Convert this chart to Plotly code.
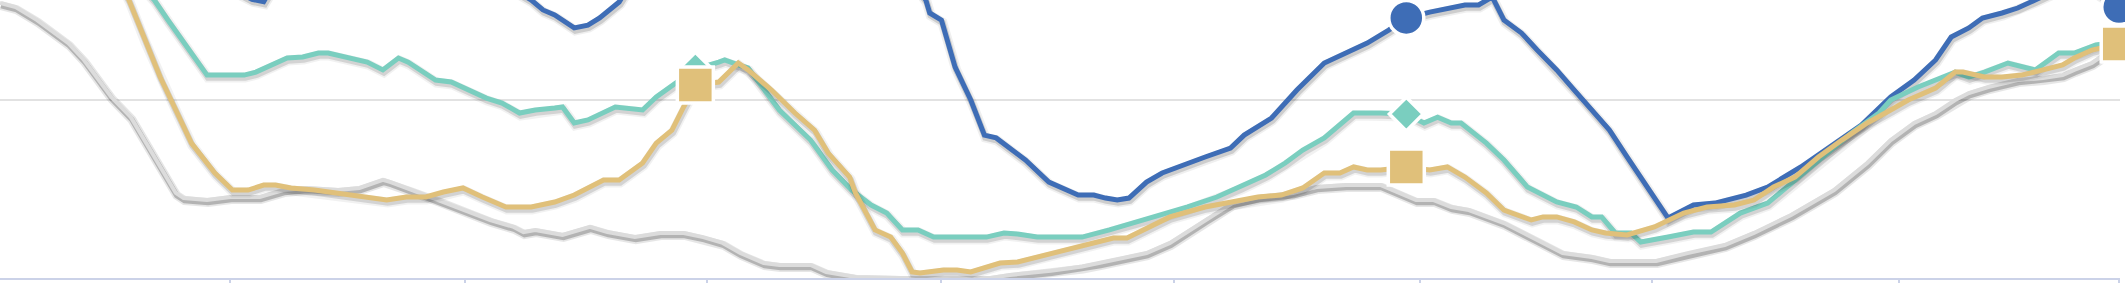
import plotly.graph_objects as go

# ---------------- data (day index, index value) ----------------
tick_days = [118, 238, 362, 482, 601, 727, 846, 972, 1085]
marker_days = [356, 720, 1085]
grid_values = [100]

blue_day = [0, 61, 123, 129, 135, 142, 164, 205, 241, 259, 272, 278, 284, 294, 301, 307, 317, 324,
            356, 410, 451, 468, 474, 476, 482, 489, 497, 504, 510, 525, 537, 552, 560, 566, 572, 578,
            587, 595, 608, 617, 630, 637, 651, 664, 678, 689, 700, 711, 720, 732, 743, 750, 757, 764,
            770, 779, 787, 797, 806, 815, 824, 833, 840, 847, 854, 867, 878, 894, 905, 922, 939, 953,
            968, 980, 991, 999, 1008, 1015, 1025, 1033, 1042, 1055, 1070, 1085]
blue_val = [200, 185, 160, 156.6, 155.3, 168, 185, 195, 180, 164.6, 156.2, 150.6, 147.8, 140.5, 142.1,
            146.1, 155.1, 167.4, 200, 210, 190, 165, 156.2, 148.9, 144.9, 118.5, 100.0, 80.3, 78.7,
            66.3, 53.9, 46.6, 46.6, 44.9, 43.8, 44.9, 53.9, 59.0, 64.6, 68.0, 73.0, 80.3, 89.9, 105.6,
            120.8, 126.4, 132.0, 139.3, 146.1, 149.4, 151.7, 153.4, 153.4, 157.9, 144.9, 137.6, 128.1,
            116.9, 105.6, 94.4, 83.1, 68.0, 56.7, 45.5, 33.7, 41.0, 42.1, 46.6, 51.1, 62.4, 75.8, 86.0,
            101.7, 111.2, 122.5, 135.4, 140.5, 146.1, 148.9, 151.7, 156.2, 162.9, 162.9, 152.2]

teal_day = [51, 72, 79, 86, 92, 104, 106, 125, 131, 147, 155, 163, 168, 188, 196, 204, 209, 223, 231,
            249, 257, 266, 274, 284, 288, 294, 301, 315, 329, 336, 346, 356, 368, 371, 378, 383, 399,
            415, 426, 436, 446, 454, 462, 470, 478, 505, 514, 521, 531, 554, 568, 589, 595, 608, 623,
            635, 648, 658, 667, 678, 693, 707, 720, 729, 736, 743, 748, 761, 770, 782, 797, 807, 815,
            820, 827, 835, 840, 854, 867, 876, 891, 905, 915, 931, 948, 962, 968, 982, 994, 1001, 1008,
            1016, 1028, 1042, 1054, 1062, 1073, 1085]
teal_val = [189.9, 164.6, 156.2, 144.9, 135.4, 116.9, 114.0, 114.0, 115.7, 123.6, 124.2, 126.4, 126.4,
            121.3, 116.9, 123.6, 121.3, 111.2, 110.1, 101.1, 98.3, 92.7, 94.4, 95.5, 96.1, 87.1, 88.8,
            96.1, 94.4, 101.7, 109.6, 117.4, 121.3, 122.5, 119.7, 118.0, 94.4, 77.5, 60.7, 49.4, 41.0,
            36.5, 27.0, 27.0, 23.0, 23.0, 25.3, 24.7, 23.0, 23.0, 27.0, 33.7, 35.4, 39.9, 45.5, 51.1,
            57.9, 64.6, 71.9, 78.7, 92.7, 92.7, 92.1, 87.1, 90.4, 87.1, 87.1, 75.8, 66.3, 51.1, 42.7,
            39.9, 34.3, 34.3, 25.3, 25.3, 20.2, 23.0, 25.8, 25.8, 36.5, 42.1, 51.1, 66.3, 81.5, 92.7,
            100.0, 107.3, 112.9, 115.7, 112.9, 115.7, 120.8, 116.9, 126.4, 126.4, 130.9, 132.6]

gold_day = [46, 59, 66, 74, 82, 90, 98, 110, 119, 127, 135, 141, 149, 161, 173, 186, 198, 208, 218,
            227, 237, 247, 259, 272, 284, 294, 309, 317, 329, 336, 344, 350, 356, 368, 378, 383, 395,
            407, 417, 424, 435, 438, 448, 456, 462, 467, 471, 483, 490, 497, 512, 521, 531, 541, 551,
            562, 570, 577, 589, 599, 617, 631, 644, 656, 667, 678, 686, 693, 700, 707, 720, 732, 741,
            750, 761, 770, 784, 790, 797, 806, 815, 822, 833, 847, 862, 874, 888, 898, 908, 919, 931,
            943, 956, 968, 977, 991, 1001, 1005, 1016, 1025, 1035, 1046, 1056, 1062, 1071, 1085]
gold_val = [201.2, 170.3, 156.2, 133.7, 112.9, 94.4, 75.8, 59.0, 49.4, 49.4, 52.2, 52.2, 50.6, 49.4,
            47.8, 45.5, 43.8, 45.5, 45.5, 48.3, 50.6, 45.5, 39.9, 39.9, 42.7, 46.6, 55.1, 55.1, 64.6,
            75.8, 83.1, 96.1, 108.4, 110.1, 120.8, 116.9, 105.6, 92.7, 83.1, 70.2, 56.7, 47.8, 27.0,
            23.0, 14.0, 3.4, 2.8, 4.5, 4.5, 3.4, 8.4, 9.0, 11.8, 14.6, 17.4, 20.2, 22.5, 22.5, 29.2,
            34.3, 39.9, 42.7, 45.5, 46.6, 50.6, 59.0, 59.0, 62.4, 60.7, 60.7, 62.4, 60.7, 62.4, 56.7,
            47.8, 38.2, 32.6, 34.3, 34.3, 31.5, 27.0, 25.3, 24.2, 28.7, 36.5, 39.9, 41.0, 43.8, 51.1,
            56.7, 68.0, 77.5, 87.1, 94.4, 100.0, 106.7, 115.7, 115.7, 112.9, 112.9, 114.0, 116.9,
            119.7, 123.6, 128.1, 131.5]

gray_day = [0, 8, 19, 35, 43, 57, 67, 74, 82, 90, 94, 106, 118, 133, 145, 157, 173, 184, 196, 200,
            211, 225, 235, 251, 263, 268, 274, 288, 302, 311, 325, 338, 350, 360, 370, 379, 391, 399,
            415, 423, 438, 461, 507, 517, 538, 554, 563, 587, 599, 617, 631, 644, 662, 674, 689, 707,
            716, 725, 734, 743, 752, 770, 787, 800, 815, 824, 848, 864, 883, 898, 917, 939, 956, 968,
            980, 991, 1001, 1008, 1018, 1033, 1046, 1056, 1062, 1071, 1083]
gray_val = [154.5, 152.2, 144.9, 132.0, 122.5, 101.7, 90.4, 77.5, 62.4, 47.8, 44.9, 43.8, 45.5, 45.5,
            49.4, 50.6, 49.4, 50.6, 55.1, 53.9, 49.4, 43.8, 39.3, 32.6, 28.7, 25.8, 27.0, 24.2, 28.7,
            25.8, 23.0, 25.3, 25.3, 23.0, 19.7, 14.0, 8.4, 7.3, 7.3, 3.4, 0.6, 0.0, 0.0, 1.7, 4.0,
            6.5, 8.4, 14.0, 19.7, 32.6, 42.1, 45.5, 47.8, 51.1, 52.2, 52.2, 48.3, 43.8, 43.8, 39.9,
            38.2, 30.9, 21.3, 14.0, 11.8, 9.6, 9.6, 14.0, 18.5, 25.3, 35.4, 49.4, 64.6, 77.5, 87.1,
            92.7, 100.0, 103.9, 107.3, 111.2, 112.4, 114.0, 116.9, 120.8, 129.8]

# ---------------- layout constants ----------------
W, H = 2125, 283
M_L, M_R, M_T, M_B = 0, 5, 0, 5
X_MAX = 1085.4
Y_MAX = 156.2
px_per_day = (W - M_L - M_R) / X_MAX
px_per_unit = (H - M_T - M_B) / Y_MAX

series = [
    # name, days, values, colour, width, shadow alpha, marker symbol, marker size
    ("gray", gray_day, gray_val, "#dcdcdc", 4, 0.22, None, 0),
    ("blue", blue_day, blue_val, "#3e6db6", 5, 0.14, "circle", 35),
    ("teal", teal_day, teal_val, "#7acebf", 5, 0.12, "diamond", 26),
    ("gold", gold_day, gold_val, "#e0c07a", 5, 0.12, "square", 36),
]

fig = go.Figure()


def shifted(days, vals, dx_px, dy_px):
    return ([d + dx_px / px_per_day for d in days],
            [v - dy_px / px_per_unit for v in vals])


for name, days, vals, color, width, sa, sym, msize in series:
    # soft drop shadow built from two strokes
    sx, sy = shifted(days, vals, 1, 2.5)
    fig.add_trace(go.Scatter(x=sx, y=sy, mode="lines",
                             line=dict(color=f"rgba(0,0,0,{sa * 0.45:.3f})", width=width + 5),
                             hoverinfo="skip"))
    fig.add_trace(go.Scatter(x=sx, y=sy, mode="lines",
                             line=dict(color=f"rgba(0,0,0,{sa:.3f})", width=width + 1.5),
                             hoverinfo="skip"))
    fig.add_trace(go.Scatter(x=days, y=vals, mode="lines", name=name,
                             line=dict(color=color, width=width)))

# markers on top (teal below gold so the square covers the diamond)
for name, days, vals, color, width, sa, sym, msize in [series[1], series[2], series[3]]:
    mx = [d for d in marker_days if d in days]
    my = [vals[days.index(d)] for d in mx]
    fig.add_trace(go.Scatter(x=mx, y=my, mode="markers", cliponaxis=False,
                             marker=dict(symbol=sym, size=msize, color=color,
                                         line=dict(color="white", width=3.5)),
                             hoverinfo="skip"))

fig.update_layout(
    width=W, height=H,
    margin=dict(l=M_L, r=M_R, t=M_T, b=M_B, pad=0),
    paper_bgcolor="white", plot_bgcolor="white",
    showlegend=False,
    xaxis=dict(range=[0, X_MAX], showgrid=False, zeroline=False,
               showline=True, linecolor="#cbd2e8", linewidth=2,
               ticks="outside", ticklen=5, tickwidth=2, tickcolor="#cbd2e8",
               tickmode="array", tickvals=tick_days, showticklabels=False),
    yaxis=dict(range=[0, Y_MAX], showgrid=True, gridcolor="#e2e2e2", gridwidth=2,
               zeroline=False, showline=False, tickmode="array", tickvals=grid_values,
               showticklabels=False, ticks=""),
)

fig.write_html("out.html")
